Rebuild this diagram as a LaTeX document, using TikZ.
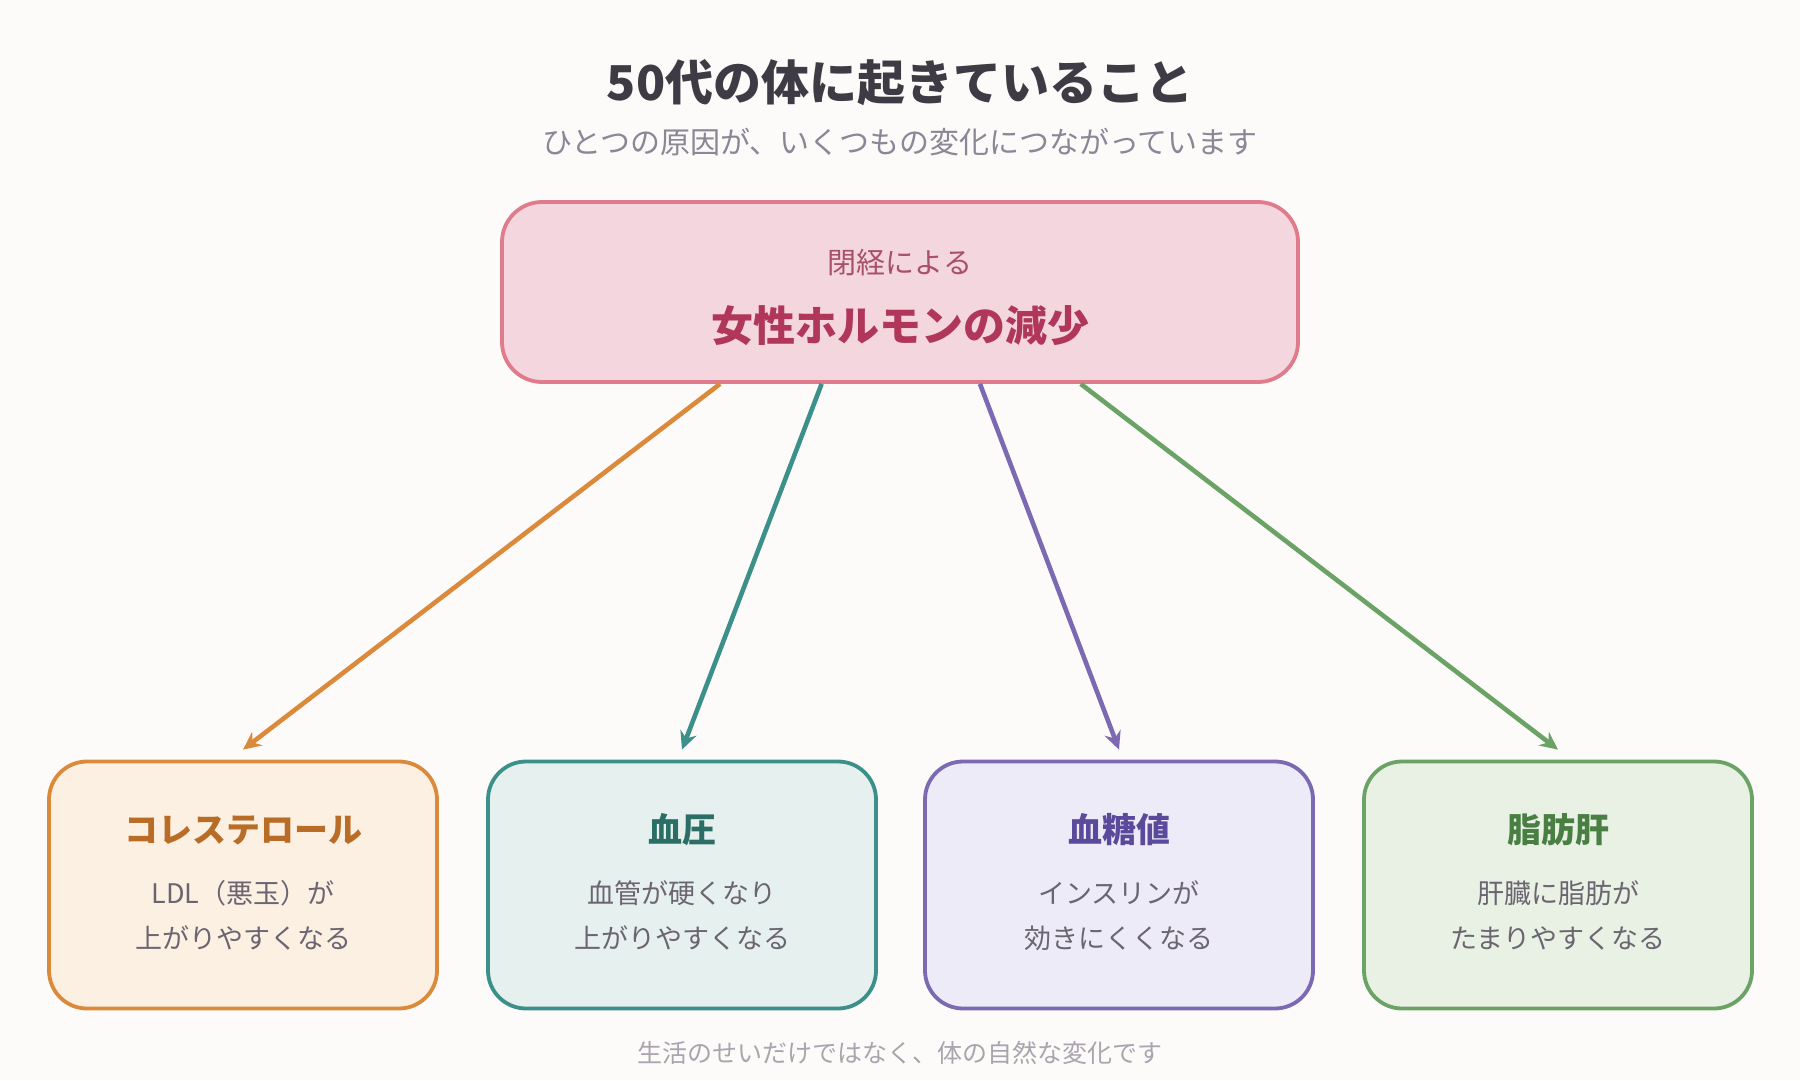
\documentclass[tikz,border=0pt]{standalone}
\usepackage{fontspec}
\setmainfont{Noto Sans CJK JP}
\usetikzlibrary{arrows.meta,calc}
\definecolor{bg}{HTML}{FDFBF9}
\definecolor{titlec}{HTML}{3F3B45}
\definecolor{subc}{HTML}{8C8796}
\definecolor{topfill}{HTML}{F4D6DF}
\definecolor{topline}{HTML}{E07B8C}
\definecolor{topsmall}{HTML}{A8506A}
\definecolor{topbig}{HTML}{B0375A}
\definecolor{orline}{HTML}{DB8A3C}
\definecolor{orfill}{HTML}{FCF0E3}
\definecolor{orhead}{HTML}{B86C25}
\definecolor{tealline}{HTML}{3B918A}
\definecolor{tealfill}{HTML}{E6F0EE}
\definecolor{tealhead}{HTML}{2B6E66}
\definecolor{purline}{HTML}{7B6AB2}
\definecolor{purfill}{HTML}{EDEBF7}
\definecolor{purhead}{HTML}{5B4A9C}
\definecolor{grline}{HTML}{6BA266}
\definecolor{grfill}{HTML}{E8F1E3}
\definecolor{grhead}{HTML}{4A7F44}
\definecolor{bodyc}{HTML}{6B6571}
\definecolor{footc}{HTML}{A9A4AE}
\tikzset{
  box/.style={rounded corners=38pt, line width=3.8pt, minimum width=388pt, minimum height=247pt, inner sep=0pt},
  headtxt/.style={inner sep=0pt, font=\fontsize{34}{40}\selectfont\bfseries},
  bodytxt/.style={inner sep=0pt, align=center, text=bodyc, font=\fontsize{27}{45}\selectfont},
  conn/.style={line width=4.6pt, -{Stealth[length=18pt,width=17pt,inset=6pt]}}
}
\begin{document}
\begin{tikzpicture}[x=1pt,y=-1pt]
\fill[bg] (0,0) rectangle (1800,1080);
\useasboundingbox (0,0) rectangle (1800,1080);
\node[inner sep=0pt, text=titlec, font=\fontsize{48}{56}\selectfont\bfseries] (title) at (900,83) {50代の体に起きていること};
\node[inner sep=0pt, text=subc, font=\fontsize{30}{36}\selectfont] (sub) at (900,142) {ひとつの原因が、いくつもの変化につながっています};
\node[box, draw=topline, fill=topfill, minimum width=796pt, minimum height=180pt, rounded corners=40pt] (top) at (900,292) {};
\node[inner sep=0pt, text=topsmall, font=\fontsize{29}{34}\selectfont] (topa) at (900,263) {閉経による};
\node[inner sep=0pt, text=topbig, font=\fontsize{42}{48}\selectfont\bfseries] (topb) at (900,326) {女性ホルモンの減少};
\node[box, draw=orline, fill=orfill] (b1) at (243,885) {};
\node[box, draw=tealline, fill=tealfill] (b2) at (682,885) {};
\node[box, draw=purline, fill=purfill] (b3) at (1119,885) {};
\node[box, draw=grline, fill=grfill] (b4) at (1558,885) {};
\node[headtxt, text=orhead] (h1) at (243,830) {コレステロール};
\node[headtxt, text=tealhead] (h2) at (682,830) {血圧};
\node[headtxt, text=purhead] (h3) at (1119,830) {血糖値};
\node[headtxt, text=grhead] (h4) at (1558,830) {脂肪肝};
\node[bodytxt] (t1) at (243,915.5) {LDL（悪玉）が\\上がりやすくなる};
\node[bodytxt] (t2) at (682,915.5) {血管が硬くなり\\上がりやすくなる};
\node[bodytxt] (t3) at (1119,915.5) {インスリンが\\効きにくくなる};
\node[bodytxt] (t4) at (1558,915.5) {肝臓に脂肪が\\たまりやすくなる};
\node[inner sep=0pt, text=footc, font=\fontsize{25}{30}\selectfont] (foot) at (900,1053) {生活のせいだけではなく、体の自然な変化です};
\coordinate (s1) at ($(top.south west)!0.275!(top.south east)$);
\coordinate (s2) at ($(top.south west)!0.402!(top.south east)$);
\coordinate (s3) at ($(top.south west)!0.600!(top.south east)$);
\coordinate (s4) at ($(top.south west)!0.726!(top.south east)$);
\coordinate (e1) at ($(b1.north)+(0,-10)$);
\coordinate (e2) at ($(b2.north)+(0,-10)$);
\coordinate (e3) at ($(b3.north)+(0,-10)$);
\coordinate (e4) at ($(b4.north)+(0,-10)$);
\draw[conn, orline] (s1) -- (e1);
\draw[conn, tealline] (s2) -- (e2);
\draw[conn, purline] (s3) -- (e3);
\draw[conn, grline] (s4) -- (e4);
\end{tikzpicture}
\end{document}
